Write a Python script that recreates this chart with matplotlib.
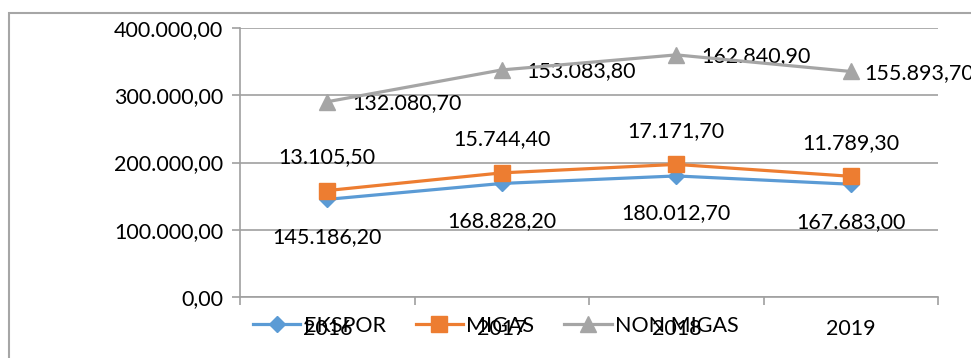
import matplotlib.pyplot as plt
import matplotlib.patches as mpatches
import numpy as np

plt.rcParams['font.family'] = ['Lato', 'DejaVu Sans']

years = ['2016', '2017', '2018', '2019']
ekspor = [145186.20, 168828.20, 180012.70, 167683.00]
migas = [13105.50, 15744.40, 17171.70, 11789.30]
non_migas = [132080.70, 153083.80, 162840.90, 155893.70]

series_names = ['EKSPOR', 'MIGAS', 'NON MIGAS']
colors = ['#5B9BD5', '#ED7D31', '#A5A5A5']
markers = ['D', 's', '^']
marker_sizes = [8, 12, 12]
FS = 15.5


def fmt_id(v):
    # Indonesian number format: 145.186,20
    s = f"{v:,.2f}"
    return s.replace(',', '#').replace('.', ',').replace('#', '.')


W, H = 971, 358
fig = plt.figure(figsize=(W / 100, H / 100), dpi=100)

# chart border
fig.patches.append(mpatches.Rectangle((9 / W, -0.1), 1.2, 1 - 13 / H + 0.1,
                                      transform=fig.transFigure, fill=False,
                                      edgecolor='#A6A6A6', linewidth=1.5))

ax = fig.add_axes([240 / W, (H - 297) / H, 698 / W, 269 / H])

x = np.arange(len(years))
data = np.array([ekspor, migas, non_migas])
stacked = np.cumsum(data, axis=0)

for i in range(3):
    ax.plot(x, stacked[i], color=colors[i], linewidth=2.3, marker=markers[i],
            markersize=marker_sizes[i], label=series_names[i], zorder=3 + i)

# data labels (the last right-hand label sits closer to its point)
for j in range(len(years)):
    ax.annotate(fmt_id(ekspor[j]), (x[j], stacked[0][j]), xytext=(0, -27),
                textcoords='offset points', ha='center', va='center', fontsize=FS)
    ax.annotate(fmt_id(migas[j]), (x[j], stacked[1][j]), xytext=(0, 24),
                textcoords='offset points', ha='center', va='center', fontsize=FS)
    dx = 18 if j < len(years) - 1 else 10
    ax.annotate(fmt_id(non_migas[j]), (x[j], stacked[2][j]), xytext=(dx, -1),
                textcoords='offset points', ha='left', va='center', fontsize=FS,
                annotation_clip=False)

ax.set_xlim(-0.5, 3.5)
ax.set_ylim(0, 400000)
ax.set_yticks(np.arange(0, 400001, 100000))
ax.set_yticklabels([fmt_id(v) for v in np.arange(0, 400001, 100000)], fontsize=FS)
ax.set_xticks(x)
ax.set_xticklabels(years, fontsize=FS)
ax.set_xticks(np.arange(-0.5, 3.6, 1), minor=True)
ax.tick_params(axis='x', which='major', length=0, pad=16)
ax.tick_params(axis='x', which='minor', length=6, color='#A0A0A0', width=1.2)
ax.tick_params(axis='y', length=6, color='#A0A0A0', width=1.2, pad=6)

ax.grid(axis='y', color='#A0A0A0', linewidth=1.2)
ax.set_axisbelow(True)
for side in ['top', 'right']:
    ax.spines[side].set_visible(False)
for side in ['left', 'bottom']:
    ax.spines[side].set_color('#A0A0A0')
    ax.spines[side].set_linewidth(1.2)

fig.legend(*ax.get_legend_handles_labels(), loc='center left',
           bbox_to_anchor=(253 / W, 1 - 326 / H), ncol=3, frameon=False,
           fontsize=FS, handlelength=2.2, handletextpad=0.15, columnspacing=1.4,
           borderpad=0, borderaxespad=0)

fig.savefig('out.png', dpi=100)
